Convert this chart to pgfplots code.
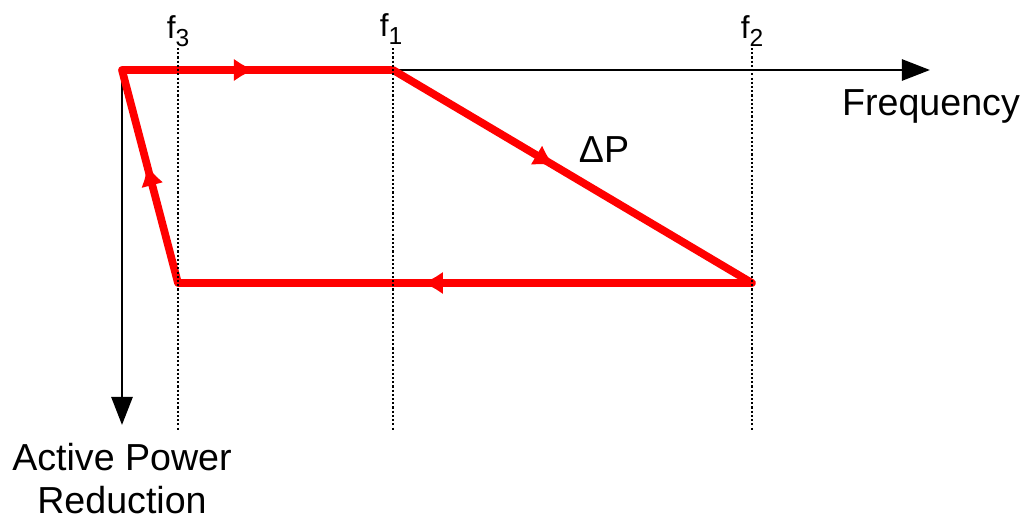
\documentclass[border=0pt]{standalone}
\usepackage{fontspec}
\setmainfont{Liberation Sans}
\usepackage{pgfplots}
\pgfplotsset{compat=1.18}
\usetikzlibrary{arrows.meta,decorations.markings}
\definecolor{pathred}{HTML}{FF0000}
\tikzset{lbl/.style={font=\fontsize{10.7}{12.2}\selectfont, inner sep=0pt},
  flbl/.style={font=\fontsize{9}{10}\selectfont, inner sep=0pt, anchor=base}}

\begin{document}
\begin{tikzpicture}
\begin{axis}[
  width=10.32cm, height=5.19cm, scale only axis,
  xmin=0, xmax=1032, ymin=0, ymax=519, y dir=reverse,
  enlargelimits=false, hide axis, clip=false]
% keep the page at the full frame
\addplot[draw=none] coordinates {(0,0) (1032,519)};
% axes
\addplot[black, line width=0.75pt, -{Triangle[length=8pt,width=6pt]}] coordinates {(122,70) (930,70)};
\addplot[black, line width=0.75pt, -{Triangle[length=8pt,width=6pt]}] coordinates {(122,70) (122,425)};
% the cycle
\addplot[pathred, line width=2.2pt, line join=round, line cap=round,
  postaction={decorate},
  decoration={markings,
    mark=at position 0.0897 with {\arrow{Latex[length=6pt,width=6.5pt]}},
    mark=at position 0.3096 with {\arrow{Latex[length=6pt,width=6.5pt]}},
    mark=at position 0.6870 with {\arrow{Latex[length=6pt,width=6.5pt]}},
    mark=at position 0.9340 with {\arrow{Latex[length=6pt,width=6.5pt]}}}]
  coordinates {(122,70) (393,70) (752,283) (178,283) (122,70)};
% frequency marks
\addplot[black, line width=0.6pt, dash pattern=on 0.6pt off 0.6pt] coordinates {(178,48) (178,430)};
\addplot[black, line width=0.6pt, dash pattern=on 0.6pt off 0.6pt] coordinates {(393,48) (393,430)};
\addplot[black, line width=0.6pt, dash pattern=on 0.6pt off 0.6pt] coordinates {(752,48) (752,430)};
\node[flbl] at (axis cs:178,39) {f\raisebox{-0.45ex}{\fontsize{7}{8}\selectfont 3}};
\node[flbl] at (axis cs:391,37) {f\raisebox{-0.45ex}{\fontsize{7}{8}\selectfont 1}};
\node[flbl] at (axis cs:752,39) {f\raisebox{-0.45ex}{\fontsize{7}{8}\selectfont 2}};
% labels
\node[lbl, anchor=base] at (axis cs:931,115) {Frequency};
\node[lbl, anchor=base] at (axis cs:604,162) {ΔP};
\node[lbl, anchor=base, align=center] at (axis cs:122,513) {Active Power\\Reduction};
\end{axis}
\end{tikzpicture}
\end{document}
